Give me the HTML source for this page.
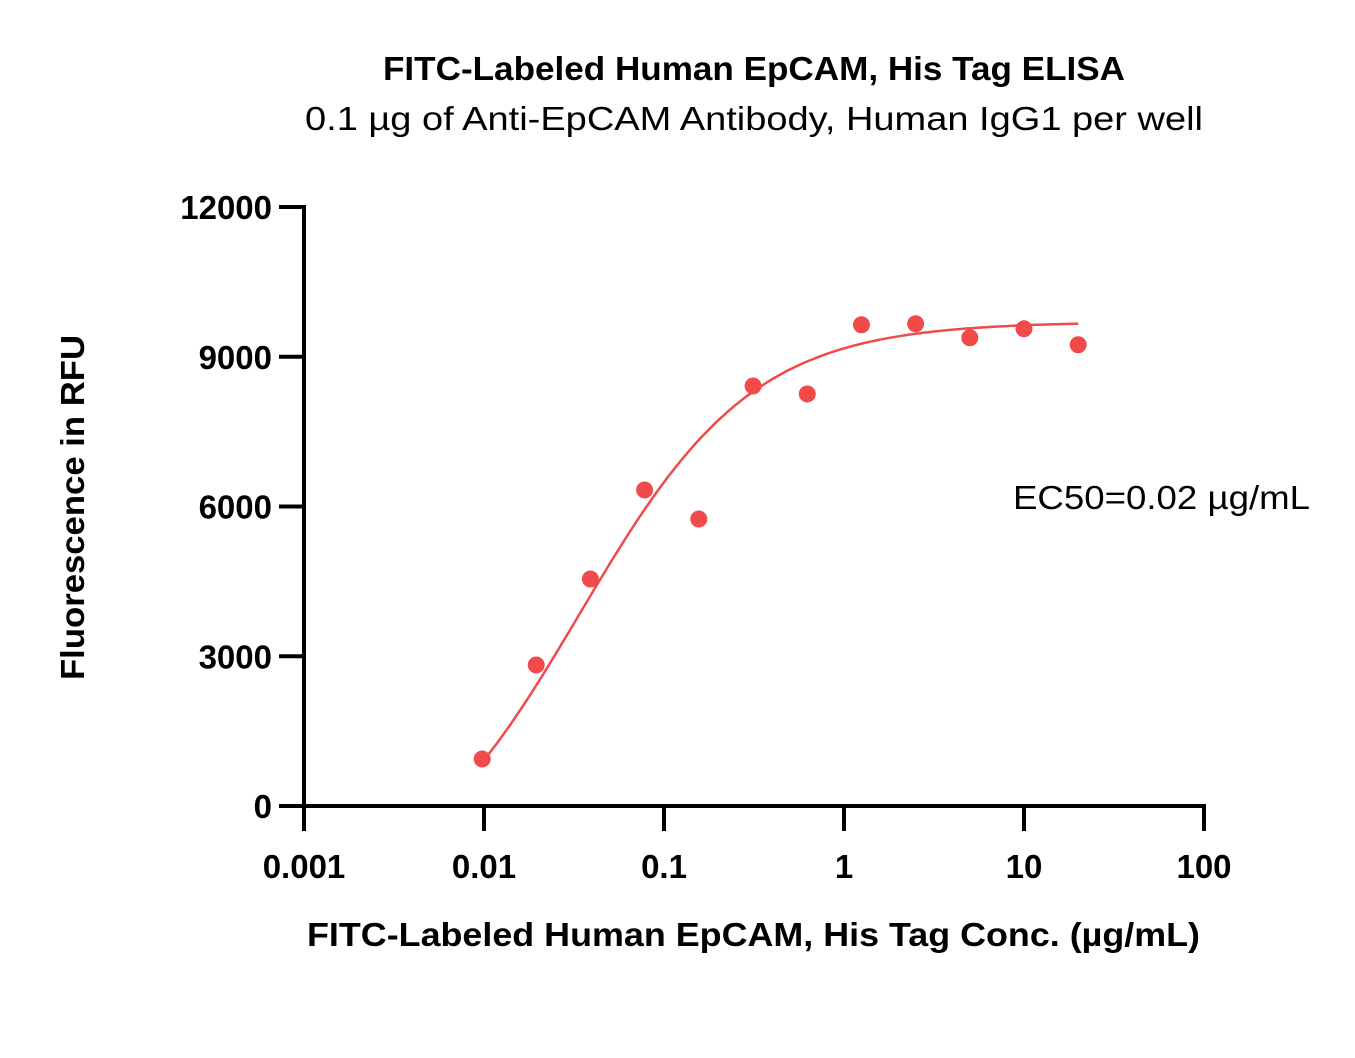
<!DOCTYPE html>
<html><head><meta charset="utf-8"><style>
body{margin:0;background:#fff;width:1355px;height:1053px;overflow:hidden}
svg text{font-family:"Liberation Sans",sans-serif}
</style></head><body>
<svg id="chart" width="1355" height="1053">
<text x="383" y="80" textLength="742" lengthAdjust="spacingAndGlyphs" font-size="33" font-weight="bold">FITC-Labeled Human EpCAM, His Tag ELISA</text>
<text x="305" y="130" textLength="898" lengthAdjust="spacingAndGlyphs" font-size="33">0.1 µg of Anti-EpCAM Antibody, Human IgG1 per well</text>
<text transform="translate(84,680) rotate(-90)" textLength="345" lengthAdjust="spacingAndGlyphs" font-size="33" font-weight="bold">Fluorescence in RFU</text>
<text x="307" y="946" textLength="893" lengthAdjust="spacingAndGlyphs" font-size="33" font-weight="bold">FITC-Labeled Human EpCAM, His Tag Conc. (µg/mL)</text>
<text x="1013" y="509" textLength="297" lengthAdjust="spacingAndGlyphs" font-size="33">EC50=0.02 µg/mL</text>
<g id="axes"></g><g id="curve"></g><g id="points"></g>
</svg>
<script>
const concs=[0.00977,0.0195,0.039,0.078,0.156,0.3125,0.625,1.25,2.5,5,10,20];
const rfu=[942,2825,4548,6330,5750,8415,8255,9640,9660,9380,9560,9240];
const yTicks=[0,3000,6000,9000,12000];
const xTicks=[0.001,0.01,0.1,1,10,100];
const xTickLabels=["0.001","0.01","0.1","1","10","100"];
const fitBottom=-2000, fitTop=9700, fitEC50=0.034, fitHill=0.9;
const NS="http://www.w3.org/2000/svg";
const X=v=>304+(Math.log10(v)+3)*180;
const Y=v=>806-v*(599/12000);
function mk(t,a,p){const e=document.createElementNS(NS,t);for(const k in a)e.setAttribute(k,a[k]);p.appendChild(e);return e;}
const ax=document.getElementById('axes');
const yl=mk('line',{x1:304,y1:Y(12000)-2,x2:304,y2:808,stroke:'#000','stroke-width':4},ax);


const xl=mk('line',{x1:302,y1:806,x2:1206,y2:806,stroke:'#000','stroke-width':4},ax);


yTicks.forEach(v=>{
 const t=mk('line',{x1:279,y1:Y(v),x2:304,y2:Y(v),stroke:'#000','stroke-width':4},ax);
 
 
 const l=mk('text',{x:272,y:Y(v)+12,'text-anchor':'end','font-size':33,'font-weight':'bold'},ax);
 l.textContent=v;
 
 
});
xTicks.forEach((v,i)=>{
 const t=mk('line',{x1:X(v),y1:806,x2:X(v),y2:831,stroke:'#000','stroke-width':4},ax);
 
 
 const l=mk('text',{x:X(v),y:878,'text-anchor':'middle','font-size':33,'font-weight':'bold'},ax);
 l.textContent=xTickLabels[i];
 
 
});
let d='';
const lo=Math.log10(concs[0]),hi=Math.log10(concs[concs.length-1]);
for(let i=0;i<=200;i++){const lx=lo+(hi-lo)*i/200,c=Math.pow(10,lx);
 const y=fitBottom+(fitTop-fitBottom)/(1+Math.pow(fitEC50/c,fitHill));
 d+=(i?'L':'M')+X(c).toFixed(1)+' '+Y(y).toFixed(1);}
const cp=mk('path',{d:d,fill:'none',stroke:'#f04a4a','stroke-width':2.5},document.getElementById('curve'));


const pg=document.getElementById('points');
concs.forEach((c,i)=>{
 const p=mk('circle',{cx:X(c),cy:Y(rfu[i]),r:8.5,fill:'#f04a4a'},pg);
 
 
});
</script>
</body></html>
